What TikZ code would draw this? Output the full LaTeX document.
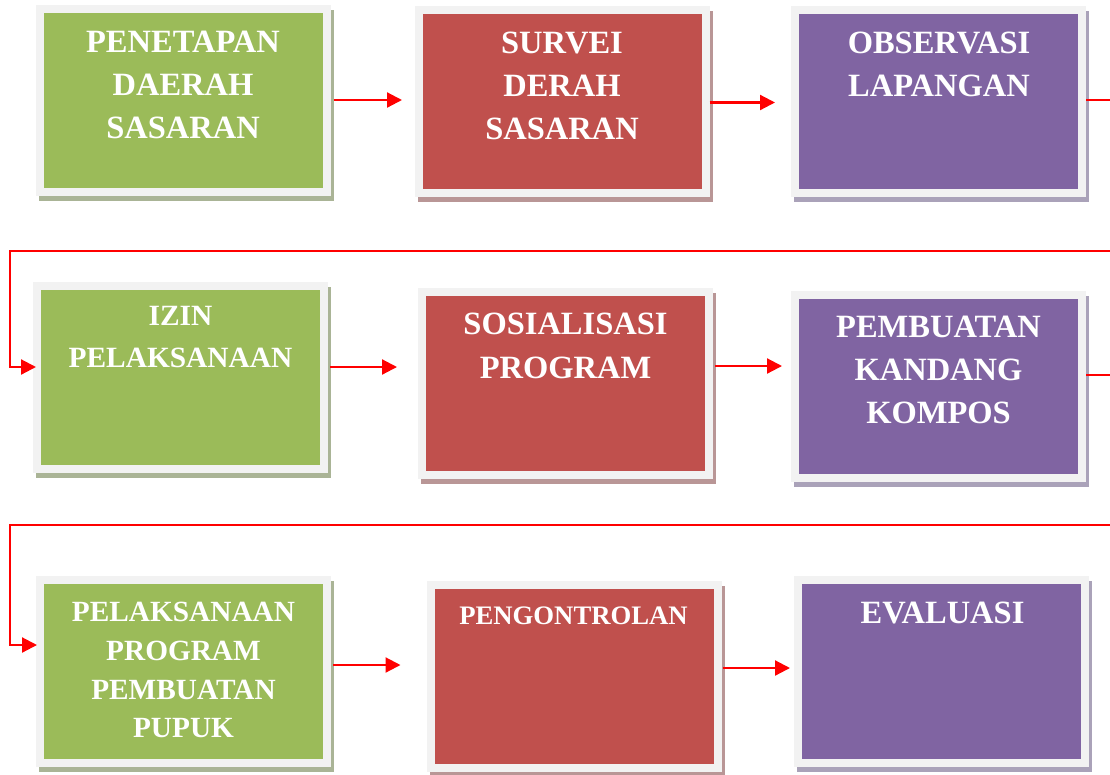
\documentclass[tikz,border=0pt]{standalone}
\usepackage{fontspec}
\setmainfont{Liberation Serif}
\usetikzlibrary{arrows.meta, shadows}

\definecolor{greenbox}{RGB}{155,187,89}
\definecolor{redbox}{RGB}{192,80,77}
\definecolor{purplebox}{RGB}{128,100,162}
\definecolor{greenboxshadow}{RGB}{170,180,150}
\definecolor{redboxshadow}{RGB}{185,150,150}
\definecolor{purpleboxshadow}{RGB}{170,162,185}
\definecolor{framegray}{RGB}{242,242,242}

\begin{document}
\begin{tikzpicture} [
	x=1pt, y=-1pt,
    card/.style={rectangle,
        minimum width=287pt,
        minimum height=183pt,
        inner sep=0pt,
        fill=#1,
        draw=framegray,
        line width=8pt,
        drop shadow={shadow xshift=3pt, shadow yshift=-5pt,
            opacity=1, fill=#1shadow, draw=#1shadow}},
    caption/.style={anchor=north,
        align=center,
        inner sep=0pt,
        text=white,
        font=\bfseries\fontsize{32.5}{43}\selectfont},
    flow/.style={draw=red, line width=2.2pt,
        -{Triangle[length=15pt, width=15pt]}}]

\useasboundingbox (0,0) rectangle (1110,774);
\clip (0,0) rectangle (1110,774);

% Row 1
\node (b1) [card=greenbox] at (183,100) {};
\node (t1) [caption] at (183,30.5) {PENETAPAN\\DAERAH\\SASARAN};

\node (b2) [card=redbox] at (562,101.5) {};
\node (t2) [caption] at (562,31.5) {SURVEI\\DERAH\\SASARAN};

\node (b3) [card=purplebox] at (938.5,101.5) {};
\node (t3) [caption] at (939,31.5) {OBSERVASI\\LAPANGAN};

% Row 2
\node (b4) [card=greenbox] at (180.5,377.5) {};
\node (t4) [caption,
    font=\bfseries\fontsize{29.4}{41.7}\selectfont] at (180.5,306) {IZIN\\PELAKSANAAN};

\node (b5) [card=redbox] at (565.5,383) {};
\node (t5) [caption,
    font=\bfseries\fontsize{32.5}{44}\selectfont] at (565.5,312.5) {SOSIALISASI\\PROGRAM};

\node (b6) [card=purplebox] at (938.5,386.5) {};
\node (t6) [caption] at (938.5,315.5) {PEMBUATAN\\KANDANG\\KOMPOS};

% Row 3
\node (b7) [card=greenbox] at (183.5,671.5) {};
\node (t7) [caption,
    font=\bfseries\fontsize{29.3}{38.7}\selectfont] at (183.5,602) {PELAKSANAAN\\PROGRAM\\PEMBUATAN\\PUPUK};

\node (b8) [card=redbox] at (574,676.5) {};
\node (t8) [caption,
    font=\bfseries\fontsize{26.7}{32}\selectfont] at (573.5,606.5) {PENGONTROLAN};

\node (b9) [card=purplebox] at (941.5,671.5) {};
\node (t9) [caption] at (942.5,601.5) {EVALUASI};

% Turning points
\coordinate (r1) at (1125,251);
\coordinate (l1) at (10,251);
\coordinate (r2) at (1125,525);
\coordinate (l2) at (10,525);

% Arrows
\draw [flow, shorten <=3pt, shorten >=12.5pt]
    (b1.east) -- (b1.east -| b2.west);
\draw [flow, shorten >=16pt]
    ([yshift=-1pt]b2.east) -- ([yshift=-1pt]b2.east -| b3.west);
\draw [flow, shorten <=2pt, shorten >=21pt]
    ([yshift=10.5pt]b4.east) -- ([yshift=10.5pt]b4.east -| b5.west);
\draw [flow, shorten <=2pt, shorten >=9pt]
    ([yshift=17pt]b5.east) -- ([yshift=17pt]b5.east -| b6.west);
\draw [flow, shorten <=2pt, shorten >=26pt]
    ([yshift=6.5pt]b7.east) -- ([yshift=6.5pt]b7.east -| b8.west);
\draw [flow, shorten <=1pt, shorten >=4pt]
    ([yshift=8.5pt]b8.east) -- ([yshift=8.5pt]b8.east -| b9.west);

% Wrap-around links
\draw [flow, shorten >=-3pt]
    ([yshift=1.5pt]b3.east) -| (r1) -- (l1) |- ([yshift=10.5pt]b4.west);
\draw [flow, shorten >=-1pt]
    ([yshift=11.5pt]b6.east) -| (r2) -- (l2) |- ([yshift=26.5pt]b7.west);
\end{tikzpicture}
\end{document}
